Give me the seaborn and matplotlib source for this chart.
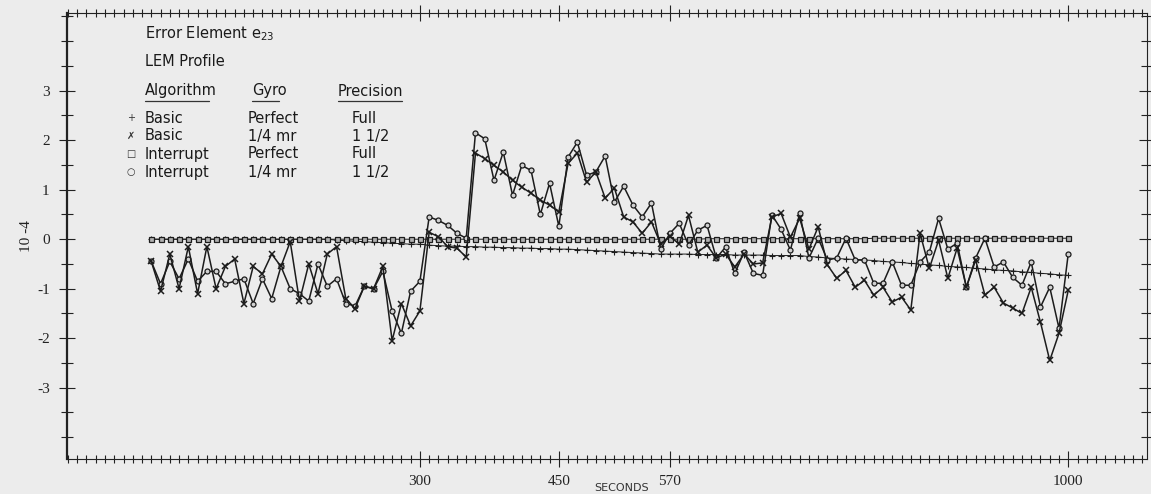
import matplotlib
matplotlib.use('Agg')
import matplotlib.pyplot as plt
from matplotlib.lines import Line2D
from matplotlib.ticker import MultipleLocator
import seaborn as sns

# ── Data (error element e23, units of 1e-4) ─────────────────────
seconds = list(range(10, 1001, 10))

basic_perfect = [
    0.0, 0.0, 0.0, 0.0, 0.0, 0.0, 0.0, 0.0, 0.0, 0.0,
    0.0, 0.0, 0.0, 0.0, 0.0, 0.0, 0.0, 0.0, 0.0, 0.0,
    -0.02, -0.03, -0.04, -0.05, -0.06, -0.07, -0.08, -0.09, -0.1, -0.1,
    -0.12, -0.13, -0.14, -0.14, -0.15, -0.15, -0.16, -0.16, -0.17, -0.17,
    -0.18, -0.18, -0.19, -0.19, -0.2, -0.2, -0.21, -0.22, -0.23, -0.24,
    -0.25, -0.26, -0.27, -0.28, -0.29, -0.3, -0.3, -0.3, -0.3, -0.31,
    -0.31, -0.31, -0.31, -0.32, -0.32, -0.32, -0.32, -0.33, -0.33, -0.33,
    -0.33, -0.35, -0.36, -0.38, -0.39, -0.4, -0.41, -0.42, -0.43, -0.45,
    -0.46, -0.47, -0.49, -0.5, -0.52, -0.53, -0.55, -0.56, -0.57, -0.59,
    -0.6, -0.62, -0.63, -0.64, -0.66, -0.67, -0.69, -0.7, -0.72, -0.73,
]

basic_quarter_mr = [
    -0.45, -1.05, -0.3, -1.0, -0.15, -1.1, -0.15, -1.0, -0.55, -0.4,
    -1.3, -0.55, -0.7, -0.3, -0.55, -0.05, -1.25, -0.5, -1.1, -0.3,
    -0.15, -1.2, -1.4, -0.95, -1.0, -0.55, -2.05, -1.3, -1.75, -1.45,
    0.14, 0.05, -0.15, -0.18, -0.36, 1.74, 1.63, 1.49, 1.36, 1.19,
    1.05, 0.93, 0.79, 0.69, 0.55, 1.53, 1.74, 1.15, 1.36, 0.83,
    1.03, 0.45, 0.35, 0.12, 0.35, -0.1, 0.06, -0.1, 0.48, -0.26,
    -0.12, -0.38, -0.3, -0.56, -0.3, -0.5, -0.48, 0.45, 0.52, 0.04,
    0.42, -0.2, 0.25, -0.52, -0.79, -0.63, -0.97, -0.83, -1.13, -0.97,
    -1.27, -1.17, -1.43, 0.12, -0.59, -0.02, -0.79, -0.18, -0.97, -0.42,
    -1.13, -0.97, -1.29, -1.39, -1.5, -0.97, -1.68, -2.45, -1.9, -1.03,
]

interrupt_perfect = [
    0.0, 0.0, 0.0, 0.0, 0.0, 0.0, 0.0, 0.0, 0.0, 0.0,
    0.0, 0.0, 0.0, 0.0, 0.0, 0.0, 0.0, 0.0, 0.0, 0.0,
    0.0, 0.0, 0.0, 0.0, 0.0, 0.0, 0.0, 0.0, 0.0, 0.0,
    0.0, 0.0, 0.0, 0.0, 0.0, 0.0, 0.0, 0.0, 0.0, 0.0,
    0.0, 0.0, 0.0, 0.0, 0.0, 0.0, 0.0, 0.0, 0.0, 0.0,
    0.0, 0.0, 0.0, 0.0, 0.0, 0.0, 0.0, 0.0, 0.0, 0.0,
    0.01, 0.01, 0.01, 0.01, 0.01, 0.01, 0.01, 0.01, 0.01, 0.01,
    0.01, 0.01, 0.01, 0.01, 0.01, 0.01, 0.01, 0.01, 0.02, 0.02,
    0.02, 0.02, 0.02, 0.02, 0.02, 0.02, 0.02, 0.02, 0.02, 0.02,
    0.02, 0.02, 0.02, 0.02, 0.02, 0.02, 0.02, 0.02, 0.02, 0.02,
]

interrupt_quarter_mr = [
    -0.45, -0.9, -0.45, -0.8, -0.4, -0.85, -0.65, -0.65, -0.9, -0.85,
    -0.8, -1.3, -0.8, -1.2, -0.55, -1.0, -1.1, -1.25, -0.5, -0.95,
    -0.8, -1.3, -1.35, -0.95, -1.0, -0.65, -1.45, -1.9, -1.05, -0.85,
    0.45, 0.38, 0.28, 0.12, 0.02, 2.15, 2.03, 1.19, 1.76, 0.89,
    1.49, 1.39, 0.5, 1.13, 0.26, 1.66, 1.96, 1.29, 1.36, 1.68,
    0.75, 1.07, 0.69, 0.45, 0.73, -0.2, 0.12, 0.32, -0.12, 0.18,
    0.28, -0.38, -0.16, -0.69, -0.26, -0.69, -0.73, 0.49, 0.2, -0.22,
    0.52, -0.38, 0.02, -0.42, -0.38, 0.02, -0.42, -0.42, -0.89, -0.89,
    -0.46, -0.93, -0.93, -0.46, -0.26, 0.42, -0.2, -0.08, -0.97, -0.38,
    0.02, -0.56, -0.46, -0.77, -0.93, -0.46, -1.37, -0.97, -1.8, -0.29,
]

x_ticks = [300, 450, 570, 1000]
y_ticks = [-3, -2, -1, 0, 1, 2, 3]

legend_algorithms = ['Basic', 'Basic', 'Interrupt', 'Interrupt']
legend_gyros = ['Perfect', '1/4 mr', 'Perfect', '1/4 mr']
legend_precisions = ['Full', '1 1/2', 'Full', '1 1/2']
legend_symbols = ['+', '\u2717', '\u25a1', '\u25cb']

# ── Figure ─────────────────────────────────────────────────────
W, H = 1151, 494
BG = '#ececec'
INK = '#1c1c1c'

sns.set_style('ticks')
plt.rcParams['font.family'] = ['DejaVu Sans']

fig = plt.figure(figsize=(W / 100, H / 100), dpi=100, facecolor=BG)
ax = fig.add_axes([67 / W, 1 - 459 / H, (1147 - 67) / W, (459 - 13) / H])
ax.set_facecolor(BG)


def fpos(px, py):
    """Pixel position (top-left origin) -> figure fraction."""
    return px / W, 1 - py / H


line_kw = dict(ax=ax, color=INK, estimator=None, sort=False, legend=False)

sns.lineplot(x=seconds, y=interrupt_perfect, lw=0.7, marker='s', markersize=3.6,
             markerfacecolor='#b0b0b0', markeredgecolor=INK, markeredgewidth=0.9,
             zorder=4, **line_kw)
sns.lineplot(x=seconds, y=basic_perfect, lw=0.7, marker='+', markersize=4.5,
             markeredgecolor=INK, markeredgewidth=0.8, zorder=3, **line_kw)
sns.lineplot(x=seconds, y=interrupt_quarter_mr, lw=1.1, marker='o', markersize=3.6,
             markerfacecolor='#d0d0d0', markeredgecolor=INK, markeredgewidth=0.9,
             zorder=5, **line_kw)
sns.lineplot(x=seconds, y=basic_quarter_mr, lw=1.1, marker='x', markersize=3.8,
             markeredgecolor=INK, markeredgewidth=1.1, zorder=6, **line_kw)

ax.set_xlim(-81, 1085)
ax.set_ylim(-4.44, 4.57)

ax.set_xticks(x_ticks)
ax.set_xticklabels([str(v) for v in x_ticks])
ax.xaxis.set_minor_locator(MultipleLocator(10))
ax.set_yticks(y_ticks)
ax.set_yticklabels([str(v) for v in y_ticks])
ax.yaxis.set_minor_locator(MultipleLocator(0.5))

ax.tick_params(which='both', direction='inout', top=True, right=True,
               color='#222222', width=0.8)
ax.tick_params(axis='x', which='major', length=11, pad=6)
ax.tick_params(axis='x', which='minor', length=6)
ax.tick_params(axis='y', which='major', length=11, pad=7)
ax.tick_params(axis='y', which='minor', length=9)

for lab in ax.get_xticklabels() + ax.get_yticklabels():
    lab.set_fontfamily(['Liberation Serif', 'DejaVu Serif'])
    lab.set_fontsize(11)
    lab.set_color('#222222')

for side, sp in ax.spines.items():
    sp.set_color('#222222')
    sp.set_linewidth(0.8)
ax.spines['left'].set_linewidth(1.6)

ax.set_ylabel('10 -4', fontfamily=['Liberation Serif', 'DejaVu Serif'],
              fontsize=11, color='#222222', labelpad=3)

fig.text(*fpos(622, 493), 'SECONDS', ha='center', va='bottom',
         fontsize=8, color='#333333')

# ── Caption block (legend as drawn in the original) ───────────
txt = dict(fontsize=10.5, color='#1a1a1a', va='center', ha='left')
fig.text(*fpos(145, 34), 'Error Element e$_{23}$', **txt)
fig.text(*fpos(145, 62), 'LEM Profile', **txt)

header_x = [145, 252, 338]
header_w = [64, 27, 64]
for hx, hw, name in zip(header_x, header_w, ['Algorithm', 'Gyro', 'Precision']):
    fig.text(*fpos(hx, 91), name, **txt)
    x0, y0 = fpos(hx, 101)
    x1, _ = fpos(hx + hw, 101)
    fig.add_artist(Line2D([x0, x1], [y0, y0], transform=fig.transFigure,
                          color='#333333', lw=0.9))

row_y = [118, 136, 154, 172]
for ry, sym, alg, gyro, prec in zip(row_y, legend_symbols, legend_algorithms,
                                    legend_gyros, legend_precisions):
    fig.text(*fpos(131, ry), sym, fontsize=7, color='#333333', ha='center', va='center')
    fig.text(*fpos(145, ry), alg, **txt)
    fig.text(*fpos(248, ry), gyro, **txt)
    fig.text(*fpos(352, ry), prec, **txt)

fig.savefig('out.png', dpi=100, facecolor=BG)
